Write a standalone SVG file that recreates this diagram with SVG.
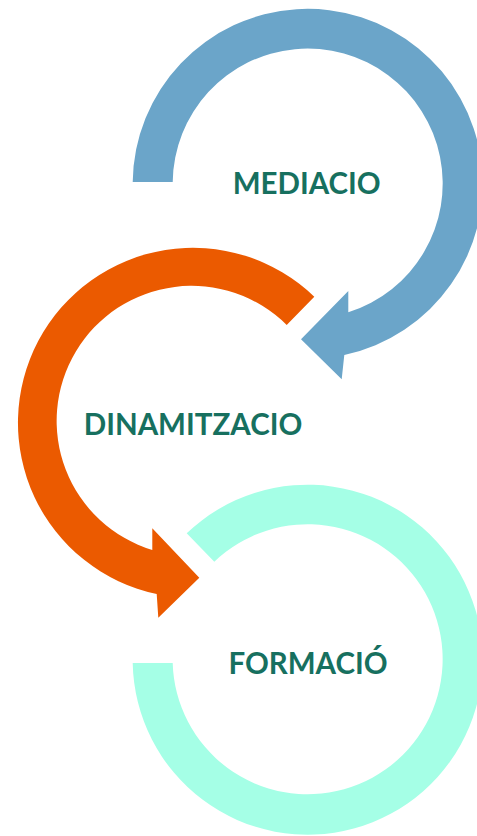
<svg xmlns="http://www.w3.org/2000/svg" width="477" height="836" viewBox="0 0 477 836">
<style>
.lbl{font-family:Lato,"Open Sans","Liberation Sans",sans-serif;font-weight:700;font-size:29.5px;fill:#17705f;text-anchor:middle}
</style>
<rect width="477" height="836" fill="#ffffff"/>
<g id="connectors">
<path id="arrow-blue" fill="#6ba5c9" d="M 132.7 182 A 175 175 0 1 1 344.3 355 L 341.7 379.3 L 301 339.3 L 348.3 291 L 348.3 312.3 A 135 135 0 1 0 172.7 182 Z"/>
<path id="arrow-orange" fill="#eb5a00" d="M 314.3 296.7 A 175 175 0 1 0 156.7 594 L 158.3 617.7 L 199.3 577.7 L 152.3 528.3 L 152.3 550 A 135 135 0 1 1 286.7 325 Z"/>
<path id="arc-mint" fill="#a5ffe6" d="M 132.7 663 A 175 175 0 1 0 186.7 533.3 L 214.3 561.7 A 135 135 0 1 1 172.7 663 Z"/>
</g>
<g id="node-mediacio"><text class="lbl" x="306.7" y="193.5">MEDIACIO</text></g>
<g id="node-dinamitzacio"><text class="lbl" x="193" y="434.5">DINAMITZACIO</text></g>
<g id="node-formacio"><text class="lbl" x="308" y="673.5">FORMACIÓ</text></g>
</svg>
